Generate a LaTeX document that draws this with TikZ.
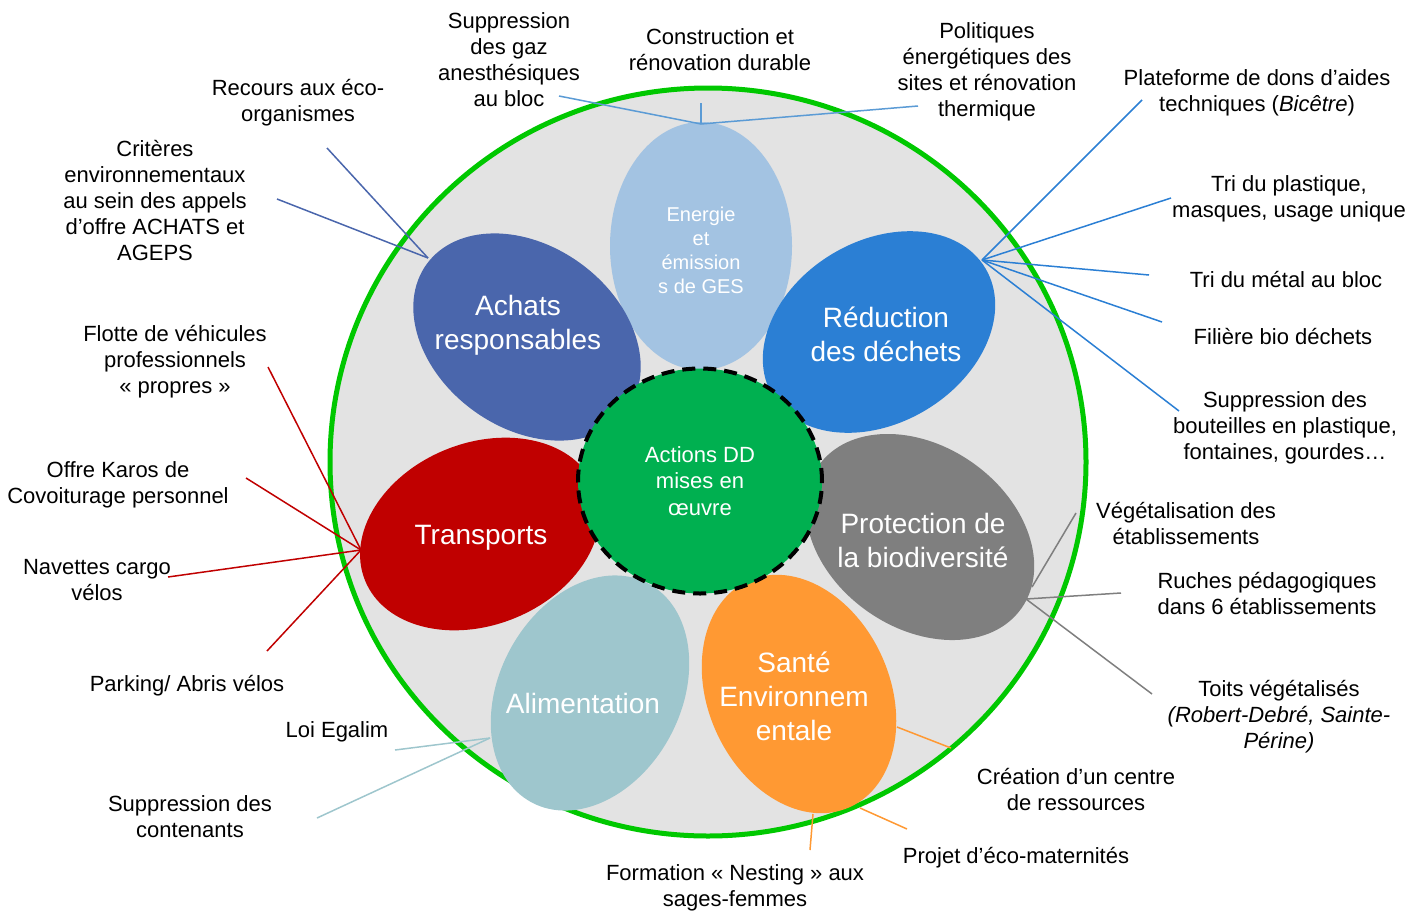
\documentclass[tikz,border=0pt]{standalone}
\usepackage{fontspec}
\setmainfont{Liberation Sans}
\usepackage{xcolor}
\usepackage{tikz}
\usetikzlibrary{shapes.geometric}

\definecolor{ringgreen}{RGB}{0,200,0}
\definecolor{ringfill}{RGB}{227,227,227}
\definecolor{ddgreen}{RGB}{0,176,80}
\definecolor{energieblue}{RGB}{163,195,226}
\definecolor{energieline}{RGB}{91,155,213}
\definecolor{achatsblue}{RGB}{74,102,172}
\definecolor{dechetsblue}{RGB}{43,127,212}
\definecolor{biogray}{RGB}{127,127,127}
\definecolor{santeorange}{RGB}{255,153,51}
\definecolor{alimteal}{RGB}{158,198,205}
\definecolor{transred}{RGB}{192,0,0}

\begin{document}
\begin{tikzpicture}[x=1pt, y=-1pt,
    lbl/.style={align=center, inner sep=0pt, yshift=-2pt, font=\fontsize{22}{26}\selectfont},
    petaltext/.style={align=center, inner sep=0pt, text=white, font=\fontsize{28}{34}\selectfont},
    smalltext/.style={align=center, inner sep=0pt, text=white, font=\fontsize{20}{24}\selectfont},
    spoke/.style={line width=1.5pt}]
    \useasboundingbox (0,0) rectangle (1410,910);

    % Outer ring
    \draw[ringgreen, line width=5pt, fill=ringfill] (708,462) ellipse [x radius=378pt, y radius=374pt];

    % Petals
    \fill[energieblue] (701,246) ellipse [x radius=91pt, y radius=124pt];
    \fill[achatsblue, rotate around={-36:(527,337)}] (527,337) ellipse [x radius=124pt, y radius=91pt];
    \fill[dechetsblue, rotate around={31:(879,332)}] (879,332) ellipse [x radius=124pt, y radius=91pt];
    \fill[biogray, rotate around={-35:(920,537)}] (920,537) ellipse [x radius=124pt, y radius=91pt];
    \fill[santeorange, rotate around={24:(799,694)}] (799,694) ellipse [x radius=91pt, y radius=124pt];
    \fill[alimteal, rotate around={-28:(590,693)}] (590,693) ellipse [x radius=91pt, y radius=124pt];
    \fill[transred, rotate around={22:(480,534)}] (480,534) ellipse [x radius=124pt, y radius=91pt];

    % Hubs where the spokes leave the petals
    \coordinate (energiehub) at (701,124);
    \coordinate (achatshub) at (428,258);
    \coordinate (dechetshub) at (982,260);
    \coordinate (biohub) at (1026,599);
    \coordinate (alimhub) at (490,738);
    \coordinate (transhub) at (361,550);

    % Free ends of the spokes
    \coordinate (gazend) at (559,96);
    \coordinate (constrend) at (701,103);
    \coordinate (politend) at (918,106);
    \coordinate (recoursend) at (327,148);
    \coordinate (criteresend) at (277,199);
    \coordinate (plateend) at (1142,100);
    \coordinate (plastend) at (1171,198);
    \coordinate (metalend) at (1149,275);
    \coordinate (bioend) at (1162,322);
    \coordinate (bouteillend) at (1179,411);
    \coordinate (vegetend) at (1076,513);
    \coordinate (ruchesend) at (1121,593);
    \coordinate (toitsend) at (1152,694);
    \coordinate (flotteend) at (268,367);
    \coordinate (karosend) at (246,478);
    \coordinate (navetteend) at (168,577);
    \coordinate (parkingend) at (267,651);
    \coordinate (egalimend) at (395,750);
    \coordinate (contenantend) at (317,818);

    % Spokes
    \draw[spoke, energieline] (gazend) -- (energiehub) -- (politend);
    \draw[spoke, energieline] (energiehub) -- (constrend);
    \draw[spoke, achatsblue] (achatshub) -- (recoursend);
    \draw[spoke, achatsblue] (achatshub) -- (criteresend);
    \foreach \e in {plateend, plastend, metalend, bioend, bouteillend}
        \draw[spoke, dechetsblue] (dechetshub) -- (\e);
    \draw[spoke, biogray] (1032,587) -- (vegetend);
    \draw[spoke, biogray] (biohub) -- (ruchesend);
    \draw[spoke, biogray] (biohub) -- (toitsend);
    \draw[spoke, santeorange] (897,727) -- (951,748);
    \draw[spoke, santeorange] (860,808) -- (907,829);
    \draw[spoke, santeorange] (813,814) -- (810,850);
    \draw[spoke, alimteal] (alimhub) -- (egalimend);
    \draw[spoke, alimteal] (alimhub) -- (contenantend);
    \foreach \e in {flotteend, karosend, navetteend, parkingend}
        \draw[spoke, transred] (transhub) -- (\e);

    % Centre
    \node[ellipse, minimum width=244pt, minimum height=225pt, inner sep=0pt,
          fill=ddgreen, draw=black, line width=4pt, dash pattern=on 13pt off 8pt,
          text=white, align=center, font=\fontsize{22}{26.5}\selectfont]
        (actions) at (700,481) {Actions DD\\mises en\\œuvre};

    % Petal titles
    \node[smalltext] (energie) at (701,250) {Energie\\et\\émission\\s de GES};
    \node[petaltext] (achats) at (518,325) {Achats\\responsables};
    \node[petaltext] (dechets) at (886,334) {Réduction\\des déchets};
    \node[petaltext] (bio) at (923,540) {Protection de\\la biodiversité};
    \node[petaltext] (sante) at (794,696) {Santé\\Environnem\\entale};
    \node[petaltext] (alim) at (583,703) {Alimentation};
    \node[petaltext] (trans) at (481,538) {Transports};

    % Actions
    \node[lbl] (gaz) at (509,58) {Suppression\\des gaz\\anesthésiques\\au bloc};
    \node[lbl] (constr) at (720,48) {Construction et\\rénovation durable};
    \node[lbl] (polit) at (987,70) {Politiques\\énergétiques des\\sites et rénovation\\thermique};
    \node[lbl] (recours) at (298,101) {Recours aux éco-\\organismes};
    \node[lbl] (criteres) at (155,199) {Critères\\environnementaux\\au sein des appels\\d’offre ACHATS et\\AGEPS};
    \node[lbl] (plate) at (1257,91) {Plateforme de dons d’aides\\techniques (\textit{Bicêtre})};
    \node[lbl] (plast) at (1289,197) {Tri du plastique,\\masques, usage unique};
    \node[lbl] (metal) at (1286,278) {Tri du métal au bloc};
    \node[lbl] (filiere) at (1283,335) {Filière bio déchets};
    \node[lbl] (bouteille) at (1285,426) {Suppression des\\bouteilles en plastique,\\fontaines, gourdes…};
    \node[lbl] (veget) at (1186,521) {Végétalisation des\\établissements};
    \node[lbl] (ruches) at (1267,591) {Ruches pédagogiques\\dans 6 établissements};
    \node[lbl] (toits) at (1279,715) {Toits végétalisés\\\textit{(Robert-Debré, Sainte-}\\\textit{Périne)}};
    \node[lbl] (centre) at (1076,787) {Création d’un centre\\de ressources};
    \node[lbl] (mater) at (1016,856) {Projet d’éco-maternités};
    \node[lbl] (nesting) at (735,886) {Formation « Nesting » aux\\sages-femmes};
    \node[lbl] (contenant) at (190,815) {Suppression des\\contenants};
    \node[lbl] (egalim) at (337,730) {Loi Egalim};
    \node[lbl] (parking) at (187,684) {Parking/ Abris vélos};
    \node[lbl] (navette) at (97,578) {Navettes cargo\\vélos};
    \node[lbl] (karos) at (118,483) {Offre Karos de\\Covoiturage personnel};
    \node[lbl] (flotte) at (175,360) {Flotte de véhicules\\professionnels\\« propres »};
\end{tikzpicture}
\end{document}
